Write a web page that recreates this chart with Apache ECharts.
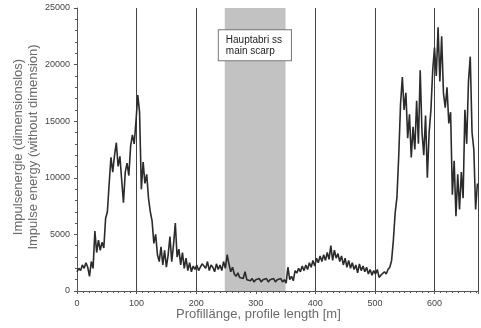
<!DOCTYPE html>
<html>
<head>
<meta charset="utf-8">
<script src="https://cdn.jsdelivr.net/npm/echarts@6/dist/echarts.min.js"></script>
<style>
  html, body { margin: 0; padding: 0; background: #fff; }
  #chart { width: 481px; height: 328px; }
</style>
</head>
<body>
<div id="chart"></div>
<script>
// profile position step in metres (one value every 3 m, starting at 0)
const stepM = 3;
// impulse energy, x = 0, 3, 6, ... 672
const energy = [
  1700, 2000, 1800, 2300, 2000, 2500, 2100, 1300, 2600, 2000,
  5300, 3400, 4500, 3600, 4300, 3800, 6400, 7000, 9500, 11800,
  10500, 12000, 13100, 11000, 11900, 9800, 7800, 10500, 11300, 10200,
  12800, 13800, 13000, 15000, 17300, 15800, 9000, 11400, 9500, 10300,
  8200, 7000, 6200, 4200, 5000, 3200, 2600, 3900, 2300, 3600,
  2100, 3200, 4800, 2600, 4100, 6000, 3000, 3700, 2300, 3400,
  2000, 2900, 1800, 2500, 1700, 2200, 1900, 2300, 1800, 2100,
  2400, 2200, 2000, 2600, 1800, 2300, 2100, 1700, 2400, 1900,
  2300, 1800, 2600, 2000, 3200, 2400, 1700, 2100, 1500, 1300,
  1600, 1200, 1300, 1100, 1700, 1000, 1100, 900, 1100, 800,
  1000, 900, 1100, 800, 1000, 900, 1100, 800, 1000, 900,
  1100, 800, 1000, 900, 1100, 800, 1000, 700, 2100, 1000,
  1300, 900, 1800, 1600, 2000, 1700, 2200, 1800, 2300, 1900,
  2500, 2100, 2700, 2200, 2900, 2500, 3100, 2600, 3200, 2700,
  3400, 2800, 4000, 2700, 3600, 2900, 3300, 2600, 3100, 2300,
  2900, 2100, 2700, 2000, 2500, 1900, 2300, 1600, 2400, 1800,
  2200, 1700, 2100, 1500, 1900, 1400, 1800, 1500, 1900, 1200,
  1400, 1300, 1700, 1500, 1900, 2100, 2700, 4500, 6900, 8300,
  12000, 16500, 18900, 16000, 17500, 13500, 15600, 11800, 14500, 12500,
  16800, 13000, 19500, 14000, 12000, 15500, 10000, 14000, 16000, 19500,
  21500, 19000, 23300, 18500, 22500, 17500, 16200, 18000, 14800, 15800,
  8500, 11500, 6600, 10300, 7200, 10500, 8200, 16000, 13000, 18500,
  20700, 14000, 12500, 7200, 9500
];
// shaded "main scarp" zone along the profile [m]
const scarpZone = [248, 350];
const scarpLabel = 'Hauptabri ss\nmain scarp';
const xTicks = [0, 100, 200, 300, 400, 500, 600];
const yTicks = [0, 5000, 10000, 15000, 20000, 25000];

const points = energy.map((v, i) => [i * stepM, v]);

const chart = echarts.init(document.getElementById('chart'));
const grey = '#555';
const option = {
  animation: false,
  grid: { left: 77, right: 0, top: 8, bottom: 37 },
  xAxis: [{
    type: 'value', min: 0, max: 673, interval: 100,
    axisLine: { onZero: false, lineStyle: { color: grey, width: 1 } },
    axisTick: { length: 3, lineStyle: { color: grey } },
    minorTick: { show: true, splitNumber: 10, length: 2, lineStyle: { color: grey } },
    axisLabel: {
      color: '#444', fontSize: 9, margin: 8, fontFamily: 'Liberation Sans',
      formatter: v => (xTicks.includes(v) ? String(v) : '')
    },
    splitLine: { show: true, lineStyle: { color: '#444', width: 1 } }
  }, {
    type: 'value', position: 'top', min: 0, max: 673,
    axisLine: { show: true, lineStyle: { color: grey, width: 1 } },
    axisTick: { show: false }, axisLabel: { show: false }, splitLine: { show: false }
  }],
  yAxis: {
    type: 'value', min: 0, max: 25000, interval: 5000,
    axisLine: { show: true, lineStyle: { color: grey, width: 1 } },
    axisTick: { show: true, length: 3, lineStyle: { color: grey } },
    minorTick: { show: true, splitNumber: 5, length: 2, lineStyle: { color: grey } },
    axisLabel: {
      color: '#444', fontSize: 9, margin: 7, fontFamily: 'Liberation Sans',
      formatter: v => (yTicks.includes(v) ? String(v) : '')
    },
    splitLine: { show: false }
  },
  series: [{
    type: 'line',
    data: points,
    symbol: 'none',
    z: 5,
    lineStyle: { color: '#2b2b2b', width: 1.6 },
    markArea: {
      silent: true,
      itemStyle: { color: '#c2c2c2' },
      data: [[{ xAxis: scarpZone[0] }, { xAxis: scarpZone[1] }]]
    }
  }],
  graphic: [
    {
      id: 'xTitle', type: 'text', left: 176, top: 308,
      style: {
        text: 'Profillänge, profile length [m]',
        font: '13px "Liberation Sans"', fill: '#6a6a6a'
      }
    },
    {
      id: 'yTitle', type: 'text', x: 11, y: 147, rotation: Math.PI / 2,
      style: {
        text: 'Impulsenergie (dimensionslos)\nImpulse energy (without dimension)',
        font: '13px "Liberation Sans"', fill: '#6a6a6a',
        align: 'center', verticalAlign: 'top', lineHeight: 15
      }
    }
  ]
};
chart.setOption(option);

// annotation box above the scarp zone (left edge of box anchored)
const anchor = chart.convertToPixel({ gridIndex: 0 }, [238, 21700]);
chart.setOption({
  graphic: [{
    id: 'scarpNote', type: 'text', x: anchor[0], y: anchor[1], z: 20,
    style: {
      text: scarpLabel,
      font: '10px "Liberation Sans"', fill: '#222',
      align: 'left', verticalAlign: 'middle', lineHeight: 11,
      backgroundColor: '#fff', borderColor: '#777', borderWidth: 1,
      padding: [4, 9, 4, 7]
    }
  }]
});
</script>
</body>
</html>
